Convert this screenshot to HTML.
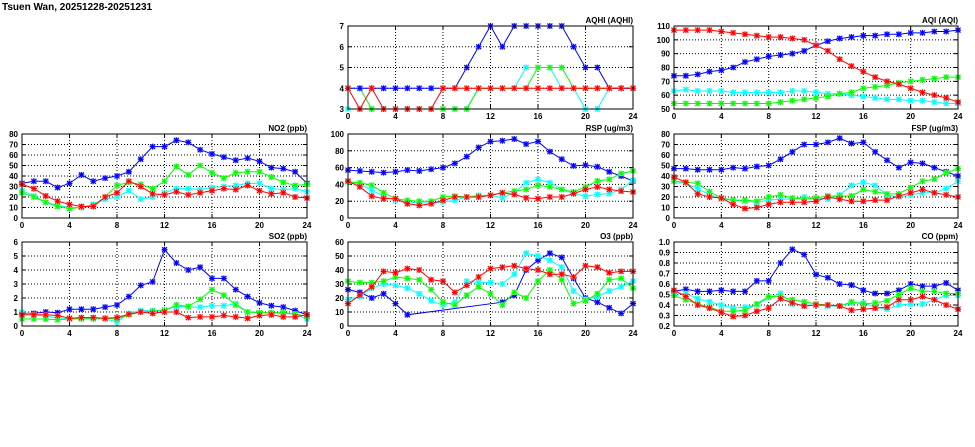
<!DOCTYPE html>
<html><head><meta charset="utf-8"><style>
html,body{margin:0;padding:0;background:#fff;}
svg{display:block;}
text{font-family:"Liberation Sans",sans-serif;font-weight:bold;font-size:8px;fill:#000;}
</style></head><body>
<svg id="s" width="975" height="447" xmlns="http://www.w3.org/2000/svg">
<text x="2" y="10" style="font-size:10px">Tsuen Wan, 20251228-20251231</text>
</svg>
<script>
const S=document.getElementById('s');const NS='http://www.w3.org/2000/svg';
function el(t,a,txt){const e=document.createElementNS(NS,t);for(const k in a)e.setAttribute(k,a[k]);if(txt!==undefined)e.textContent=txt;S.appendChild(e);return e;}
const cols=[[22,307],[348,633],[674,958]];const rows=[[26,109],[134,218],[242,326]];
const C=['#0000ff','#00ffff','#00ff00','#ff0000'];const H=['#aaaaff','#bbffff','#bbffbb','#ffbbbb'];
function panel(ci,ri,title,ymin,ymax,step,dec,data,order){
 order=order||[0,1,2,3];
 const [x0,x1]=cols[ci],[y0,y1]=rows[ri];
 const X=i=>x0+(x1-x0)*i/24,Y=v=>y1-(y1-y0)*(v-ymin)/(ymax-ymin);
 el('rect',{x:x0,y:y0,width:x1-x0,height:y1-y0,fill:'#fff',stroke:'none'});
 const n=Math.round((ymax-ymin)/step);
 for(let k=0;k<=n;k++){const v=ymin+k*step,y=Y(v);
  if(k>0&&k<n)el('line',{x1:x0,x2:x1,y1:y,y2:y,stroke:'#000','stroke-width':1,'stroke-dasharray':'1,2'});
  el('line',{x1:x0,x2:x0+4,y1:y,y2:y,stroke:'#000'});el('line',{x1:x1-4,x2:x1,y1:y,y2:y,stroke:'#000'});
  el('text',{x:x0-4,y:y+3,'text-anchor':'end'},v.toFixed(dec));}
 for(let h=0;h<=24;h+=4){const x=X(h);
  if(h>0&&h<24)el('line',{x1:x,x2:x,y1:y0,y2:y1,stroke:'#000','stroke-dasharray':'1,2'});
  el('line',{x1:x,x2:x,y1:y1,y2:y1-4,stroke:'#000'});el('line',{x1:x,x2:x,y1:y0,y2:y0+4,stroke:'#000'});
  el('text',{x:x,y:y1+10,'text-anchor':'middle'},String(h));}
 el('text',{x:x1,y:y0-3,'text-anchor':'end'},title);
 order.forEach(si=>{const d=data[si];let pts=[];d.forEach((v,i)=>{if(v!==null)pts.push([X(i),Y(Math.max(ymin,Math.min(ymax,v)))]);});
  el('polyline',{points:pts.map(p=>p.join(',')).join(' '),fill:'none',stroke:C[si],'stroke-width':1});
  pts.forEach(([x,y])=>{el('rect',{x:x-2.5,y:y-2.5,width:5,height:5,fill:H[si]});
   el('path',{d:`M${x-2.5},${y-2.5}L${x+2.5},${y+2.5}M${x-2.5},${y+2.5}L${x+2.5},${y-2.5}M${x},${y-3}L${x},${y+3}M${x-3},${y}L${x+3},${y}`,stroke:C[si],'stroke-width':1.1});});});
 el('rect',{x:x0,y:y0,width:x1-x0,height:y1-y0,fill:'none',stroke:'#000','stroke-width':1});
}
panel(1,0,'AQHI (AQHI)',3,7,1,0,[
[4,4,4,4,4,4,4,4,4,4,5,6,7,6,7,7,7,7,7,6,5,5,4,4,4],
[3,3,3,3,3,3,3,3,3,3,3,4,4,4,4,5,5,5,4,4,3,3,4,4,4],
[4,4,3,3,3,3,3,3,3,3,3,4,4,4,4,4,5,5,5,4,4,4,4,4,4],
[4,3,4,3,3,3,3,3,4,4,4,4,4,4,4,4,4,4,4,4,4,4,4,4,4]],[1,2,0,3]);
panel(2,0,'AQI (AQI)',50,110,10,0,[
[74,74,75,77,78,80,84,86,88,89,90,92,96,99,101,102,103,103,104,104,105,105,106,106,107],
[63,64,63,63,63,62,62,62,62,62,63,63,62,61,61,60,59,58,57,57,56,56,55,54,54],
[54,54,54,54,54,54,54,54,54,55,56,57,58,59,61,62,65,66,67,69,70,71,72,73,73],
[107,107,107,107,106,105,104,103,102,102,101,100,96,92,86,81,77,73,70,68,65,62,60,58,55]]);
panel(0,1,'NO2 (ppb)',0,80,10,0,[
[33,35,35,29,33,41,35,38,40,44,56,68,68,74,72,65,61,58,55,57,54,48,47,44,33],
[26,21,15,12,10,10,13,18,20,26,18,20,24,28,28,27,29,30,31,33,33,28,27,28,25],
[24,20,15,11,9,10,12,20,31,34,32,28,35,49,41,50,43,38,43,44,44,39,34,31,32],
[32,28,21,16,13,11,11,20,24,35,30,23,22,25,22,24,26,28,27,31,26,23,24,20,19]]);
panel(1,1,'RSP (ug/m3)',0,100,20,0,[
[57,56,55,54,55,57,56,58,60,65,73,84,91,92,94,88,91,79,70,62,63,61,55,50,44],
[43,40,33,26,21,19,18,18,19,21,25,27,27,24,30,42,46,42,34,29,26,28,29,34,45],
[43,42,39,30,23,21,20,20,25,26,25,26,27,30,32,34,39,37,34,31,37,44,46,53,56],
[44,37,26,23,23,17,15,17,21,25,25,25,27,30,28,24,23,25,25,29,34,37,34,32,31]]);
panel(2,1,'FSP (ug/m3)',0,80,10,0,[
[47,47,46,46,46,48,47,49,50,56,63,70,70,72,76,71,72,63,55,48,53,52,48,44,40],
[35,33,28,22,18,17,16,15,17,18,18,20,19,18,22,31,34,31,22,20,22,24,24,28,35],
[35,34,33,25,19,17,17,16,20,22,19,18,19,21,21,21,27,25,23,23,29,35,37,43,47],
[39,34,23,20,19,13,9,10,13,15,15,15,16,20,18,16,16,17,17,21,24,27,24,22,20]]);
panel(0,2,'SO2 (ppb)',0,6,1,0,[
[.9,.9,1.0,.95,1.2,1.2,1.2,1.35,1.5,2.1,2.9,3.15,5.45,4.5,4.0,4.2,3.4,3.4,2.6,2.1,1.65,1.45,1.35,1.1,.8],
[1.0,.8,.7,.6,.5,.5,.5,.5,.3,.9,1.1,1.1,1.15,1.4,1.35,1.35,1.45,1.45,1.6,1.0,.95,.9,.9,.85,.5],
[.5,.5,.5,.45,.5,.55,.55,.55,.5,.8,1.0,1.05,1.1,1.5,1.4,1.9,2.6,2.2,1.5,1.0,.95,.95,.95,.85,.7],
[.8,.8,.8,.75,.55,.6,.6,.55,.6,.85,1.0,.9,1.0,1.0,.6,.65,.65,.75,.65,.55,.75,.8,.65,.65,.8]]);
panel(1,2,'O3 (ppb)',0,60,10,0,[
[26,24,20,23,16,8,null,null,null,null,null,null,null,17,22,40,47,52,49,34,20,17,13,9,16],
[19,21,27,30,29,27,23,18,15,17,32,31,31,30,37,52,50,47,42,25,19,21,25,28,32],
[32,31,31,32,35,34,33,26,17,15,22,28,23,15,24,20,32,40,33,16,18,23,33,34,27],
[16,22,28,39,38,41,40,33,32,24,29,35,41,42,43,41,40,37,37,35,43,42,38,39,39]]);
panel(2,2,'CO (ppm)',0.2,1.0,0.1,1,[
[.53,.55,.53,.53,.54,.53,.53,.63,.63,.8,.93,.88,.69,.66,.6,.59,.54,.51,.51,.54,.6,.58,.58,.61,.54],
[.5,.51,.46,.43,.4,.37,.38,.4,.47,.51,.41,.4,.4,.39,.39,.42,.42,.38,.36,.4,.41,.41,.45,.49,.49],
[.49,.45,.41,.38,.34,.34,.35,.41,.48,.48,.45,.43,.41,.4,.39,.43,.41,.42,.44,.5,.56,.53,.53,.51,.51],
[.54,.48,.4,.37,.33,.29,.3,.34,.37,.46,.42,.39,.4,.4,.39,.35,.36,.37,.38,.45,.45,.48,.45,.4,.36]]);
</script>
</body></html>
